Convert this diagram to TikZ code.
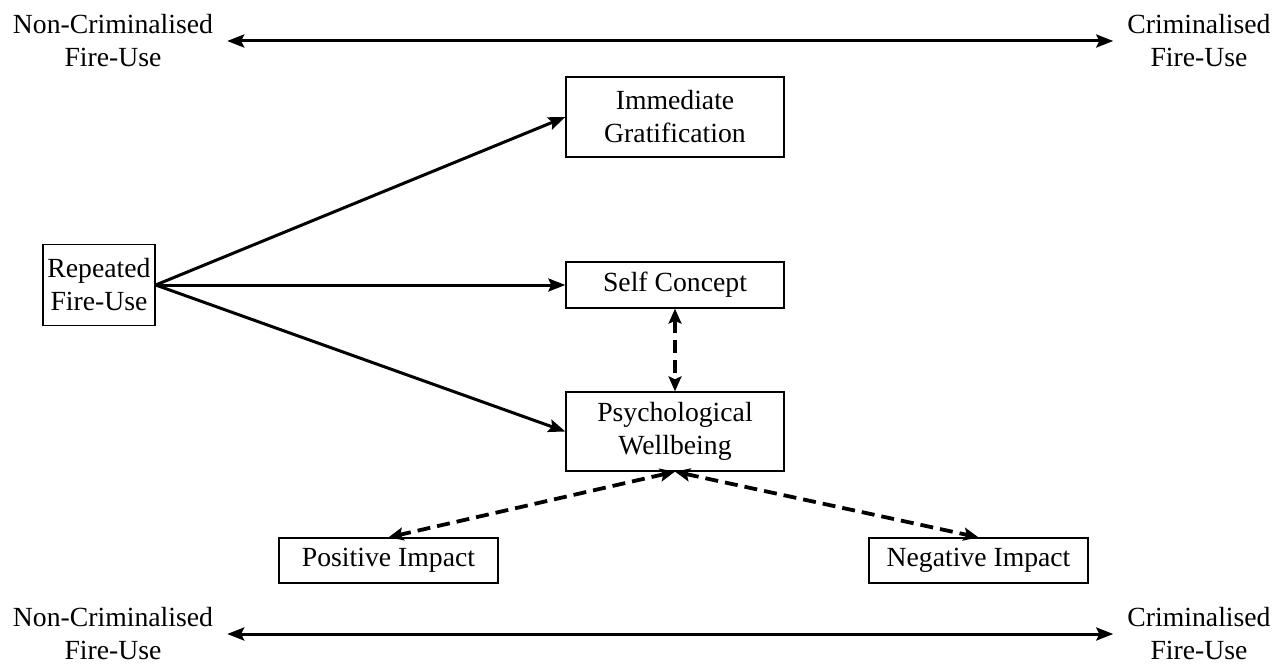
\documentclass[tikz,border=0pt]{standalone}
\usepackage{fontspec}
\setmainfont{Liberation Serif}
\usetikzlibrary{arrows.meta}
\newcommand\myfs{\fontsize{27.7}{33}\selectfont}
\begin{document}
\begin{tikzpicture}[x=1pt,y=-1pt,
  box/.style={draw, line width=1.3pt, inner sep=0pt, align=center, font=\myfs},
  endlabel/.style={inner ysep=0pt, inner xsep=14pt, align=center, font=\myfs},
  solidarr/.style={line width=3pt, -{Stealth[length=17pt,width=13pt,inset=3pt]}},
  bothsolid/.style={line width=3pt, {Stealth[length=17pt,width=13pt,inset=3pt]}-{Stealth[length=17pt,width=13pt,inset=3pt]}},
  bothdash/.style={line width=3.8pt, dash pattern=on 13pt off 7pt, {Stealth[length=15pt,width=13pt,inset=3pt]}-{Stealth[length=15pt,width=13pt,inset=3pt]}}
]
\useasboundingbox (0,0) rectangle (1288,666);
% end labels
\node[endlabel] (nct) at (113,41) {Non-Criminalised\\Fire-Use};
\node[endlabel] (ct) at (1199,41) {Criminalised\\Fire-Use};
\node[endlabel] (ncb) at (113,634) {Non-Criminalised\\Fire-Use};
\node[endlabel] (cb) at (1199,634) {Criminalised\\Fire-Use};
\draw[bothsolid] (nct.east) -- (ct.west);
\draw[bothsolid] (ncb.east) -- (cb.west);
% boxes
\node[box, minimum width=112pt, minimum height=81pt] (rep) at (99,285) {Repeated\\Fire-Use};
\node[box, minimum width=218pt, minimum height=80pt] (imm) at (675,117) {Immediate\\Gratification};
\node[box, minimum width=218pt, minimum height=46pt] (self) at (675,285) {Self Concept};
\node[box, minimum width=218pt, minimum height=79pt] (psy) at (675,431.5) {Psychological\\Wellbeing};
\node[box, minimum width=219pt, minimum height=45pt] (pos) at (388.5,560.5) {Positive Impact};
\node[box, minimum width=219pt, minimum height=45pt] (neg) at (978.5,560.5) {Negative Impact};
% connectors
\draw[solidarr] (rep.east) -- (imm.west);
\draw[solidarr] (rep.east) -- (self.west);
\draw[solidarr] (rep.east) -- (psy.west);
\draw[bothdash] (self.south) -- (psy.north);
\draw[bothdash] (psy.south) -- (pos.north);
\draw[bothdash] (psy.south) -- (neg.north);
\end{tikzpicture}
\end{document}
